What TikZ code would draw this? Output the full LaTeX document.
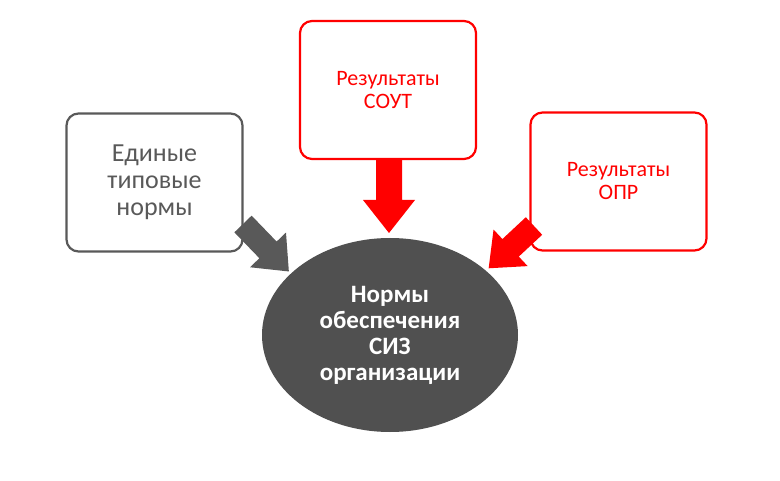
\documentclass[tikz,border=0pt]{standalone}
\usepackage{fontspec}
\usetikzlibrary{shapes.geometric}
\setmainfont{Carlito}
\definecolor{dg}{HTML}{505050}
\definecolor{bx}{HTML}{595959}
\definecolor{rd}{HTML}{FF0000}
\begin{document}
\begin{tikzpicture}[x=1pt,y=1pt,
  box/.style={draw,line width=2.2pt,rounded corners=12pt,minimum width=176pt,minimum height=138pt,align=center,fill=white},
  blockarrow/.style={fill}]
\useasboundingbox (0,0) rectangle (780,480);
\node[box,draw=bx,text=bx,font=\fontsize{26}{27}\selectfont] (norms) at (154.5,297.5) {Единые\\типовые\\нормы};
\node[box,draw=rd,text=rd,font=\fontsize{22}{23}\selectfont] (sout) at (388,390) {Результаты\\СОУТ};
\node[box,draw=rd,text=rd,font=\fontsize{22}{23}\selectfont] (opr) at (618.5,298.5) {Результаты\\ОПР};
\node[ellipse,fill=dg,minimum width=256pt,minimum height=194pt,text=white,align=center,font=\bfseries\fontsize{25}{26}\selectfont] (siz) at (390,145) {Нормы\\обеспечения\\СИЗ\\организации};
\begin{scope}[shift={(389,320)},rotate=-90]
\fill[rd] (0,13)--(40,13)--(40,26)--(73,0)--(40,-26)--(40,-13)--(0,-13)--cycle;
\end{scope}
\begin{scope}[shift={(243,256)},rotate=-46]
\fill[bx] (0,12)--(36,12)--(36,25)--(66,0)--(36,-25)--(36,-12)--(0,-12)--cycle;
\end{scope}
\begin{scope}[shift={(534,254)},rotate=-137]
\fill[rd] (0,12)--(32,12)--(32,25)--(62,0)--(32,-25)--(32,-12)--(0,-12)--cycle;
\end{scope}
\end{tikzpicture}
\end{document}
